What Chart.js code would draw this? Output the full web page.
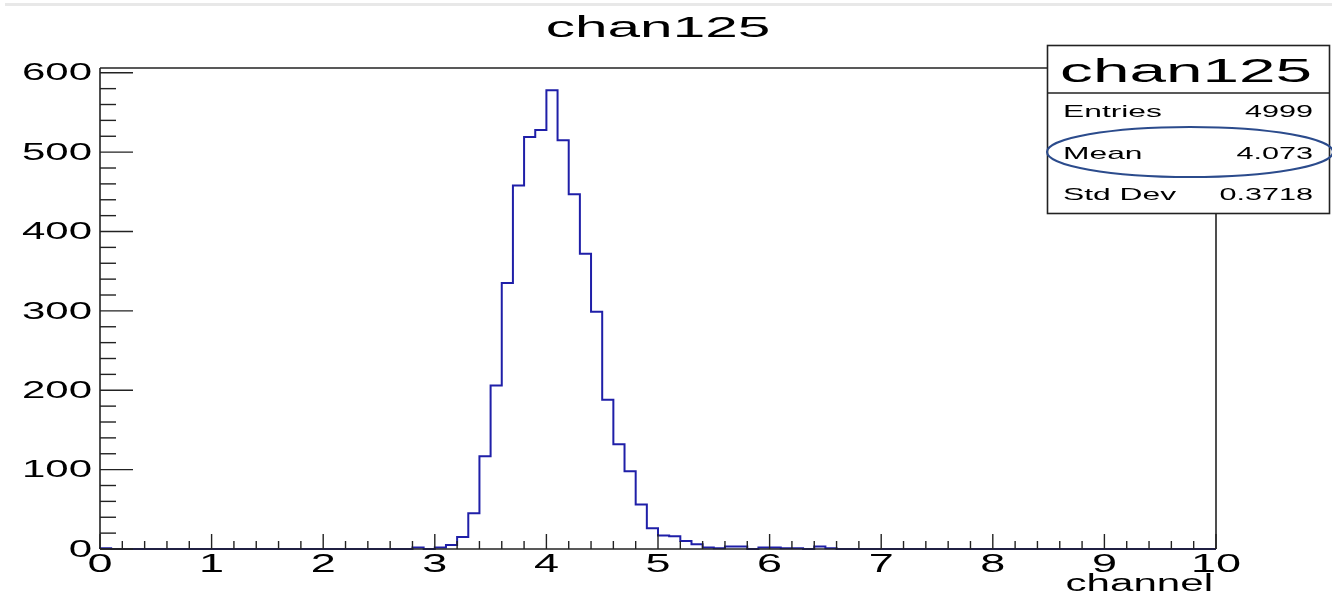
<!DOCTYPE html>
<html>
<head>
<meta charset="utf-8">
<script src="https://cdn.jsdelivr.net/npm/chart.js@4/dist/chart.umd.min.js"></script>
<style>
  html, body { margin: 0; padding: 0; background: #fff; }
  #wrap { width: 1332px; height: 593px; }
</style>
</head>
<body>
<div id="wrap"><canvas id="hist" width="1332" height="593"></canvas></div>
<script>
// ===== Histogram data =====
const histName = "chan125";
const xTitle = "channel";
const binLow = 0;
const binWidth = 0.1;
const counts = [
  1, 0, 0, 0, 0, 0, 0, 0, 0, 0,
  0, 0, 0, 0, 0, 0, 0, 0, 0, 0,
  0, 0, 0, 0, 0, 0, 0, 0, 2, 0,
  2, 5, 15, 45, 117, 206, 335, 458, 519, 528,
  578, 515, 447, 372, 299, 188, 132, 98, 56, 26,
  17, 16, 10, 6, 2, 1, 3, 3, 0, 2,
  2, 1, 1, 0, 3, 1, 0, 0, 0, 0,
  0, 0, 0, 0, 0, 0, 0, 0, 0, 0,
  0, 0, 0, 0, 0, 0, 0, 0, 0, 0,
  0, 0, 0, 0, 0, 0, 0, 0, 0, 0
];
const xTicks = [0, 1, 2, 3, 4, 5, 6, 7, 8, 9, 10];
const yTicks = [0, 100, 200, 300, 400, 500, 600];
const statsLabels = ["Entries", "Mean", "Std Dev"];
const statsValues = ["4999", "4.073", "0.3718"];

const xMax = binLow + binWidth * counts.length;
const yMax = 606;

// outline points: each bin's value sits at its upper edge; an "after"
// step rises at the previous edge and runs flat across the bin
const outline = [{ x: binLow, y: 0 }];
counts.forEach((c, i) => outline.push({ x: binLow + (i + 1) * binWidth, y: c }));
outline.push({ x: xMax, y: 0 });

const FONT = '"Liberation Sans", Arial, Helvetica, sans-serif';

// ROOT-looking text is wide, so squeeze it through a horizontal scale
function wideText(ctx, text, x, y, size, align, sx, baseline) {
  ctx.save();
  ctx.translate(x, y);
  ctx.scale(sx, 1);
  ctx.font = size + "px " + FONT;
  ctx.textAlign = align;
  ctx.textBaseline = baseline || "alphabetic";
  ctx.fillStyle = "#000";
  ctx.fillText(text, 0, 0);
  ctx.restore();
}

function line(ctx, x1, y1, x2, y2) {
  ctx.beginPath();
  ctx.moveTo(x1, y1);
  ctx.lineTo(x2, y2);
  ctx.stroke();
}

const rootFrame = {
  id: "rootFrame",
  beforeDatasetsDraw(chart) {
    const { ctx } = chart;
    // faint strip along the top of the canvas
    ctx.save();
    ctx.fillStyle = "#e8e8e8";
    ctx.fillRect(5, 3, chart.width - 5, 3);
    ctx.restore();
  },
  afterDatasetsDraw(chart) {
    const { ctx, chartArea: a, scales } = chart;
    const xs = scales.x, ys = scales.y;
    ctx.save();
    ctx.strokeStyle = "#222";
    ctx.lineWidth = 1.6;
    // frame, drawn over the histogram like the axes
    line(ctx, a.left, a.top, a.left, a.bottom);
    line(ctx, a.left, a.bottom, a.right, a.bottom);
    line(ctx, a.left, a.top, a.right, a.top);
    line(ctx, a.right, a.top, a.right, a.bottom);

    // x ticks: major every 1, minor every 0.2, pointing inward
    ctx.lineWidth = 1.4;
    for (let v = 0; v <= 50; v++) {
      const px = xs.getPixelForValue(v * 0.2);
      const len = v % 5 === 0 ? 15 : 8;
      line(ctx, px, a.bottom, px, a.bottom - len);
    }
    // y ticks: major every 100, minor every 20
    for (let v = 0; v * 20 <= yMax; v++) {
      const py = ys.getPixelForValue(v * 20);
      const len = v % 5 === 0 ? 33 : 16;
      line(ctx, a.left, py, a.left + len, py);
    }
    ctx.restore();
  },
  afterDraw(chart) {
    const { ctx, scales } = chart;
    const xs = scales.x, ys = scales.y;
    ctx.save();

    // title
    wideText(ctx, histName, 658, 37, 30, "center", 1.95);

    // tick labels
    yTicks.forEach(v => {
      wideText(ctx, String(v), 92, ys.getPixelForValue(v) + 1, 24, "right", 1.75, "middle");
    });
    xTicks.forEach(v => {
      wideText(ctx, String(v), xs.getPixelForValue(v), 572, 25, "center", 1.8);
    });
    wideText(ctx, xTitle, 1213, 591, 23, "right", 1.83);

    // stats box
    const bx = 1047.5, by = 45.5, bw = 282, bh = 168;
    ctx.fillStyle = "#fff";
    ctx.fillRect(bx, by, bw, bh);
    ctx.strokeStyle = "#222";
    ctx.lineWidth = 1.6;
    ctx.strokeRect(bx, by, bw, bh);
    line(ctx, bx, 93, bx + bw, 93);
    wideText(ctx, histName, 1186, 82, 34, "center", 1.93);
    const rowY = [117, 159, 200];
    statsLabels.forEach((s, i) => {
      wideText(ctx, s, 1063, rowY[i], 17, "left", 1.87);
      wideText(ctx, statsValues[i], 1313, rowY[i], 17, "right", 1.8);
    });

    // ellipse around the mean row
    ctx.strokeStyle = "#2b4b8c";
    ctx.lineWidth = 2;
    ctx.beginPath();
    ctx.ellipse(1190, 152, 143, 25, 0, 0, Math.PI * 2);
    ctx.stroke();

    ctx.restore();
  }
};

new Chart(document.getElementById("hist"), {
  type: "line",
  data: {
    datasets: [{
      label: histName,
      data: outline,
      stepped: "after",
      borderColor: "#1f1fa8",
      borderWidth: 2,
      pointRadius: 0,
      fill: false,
      tension: 0,
      clip: 4
    }]
  },
  options: {
    responsive: false,
    devicePixelRatio: 1,
    animation: false,
    layout: { padding: { left: 100, top: 68, right: 116, bottom: 44 } },
    plugins: { legend: { display: false }, tooltip: { enabled: false } },
    scales: {
      x: { type: "linear", min: binLow, max: xMax, display: false },
      y: { type: "linear", min: 0, max: yMax, display: false }
    }
  },
  plugins: [rootFrame]
});
</script>
</body>
</html>
